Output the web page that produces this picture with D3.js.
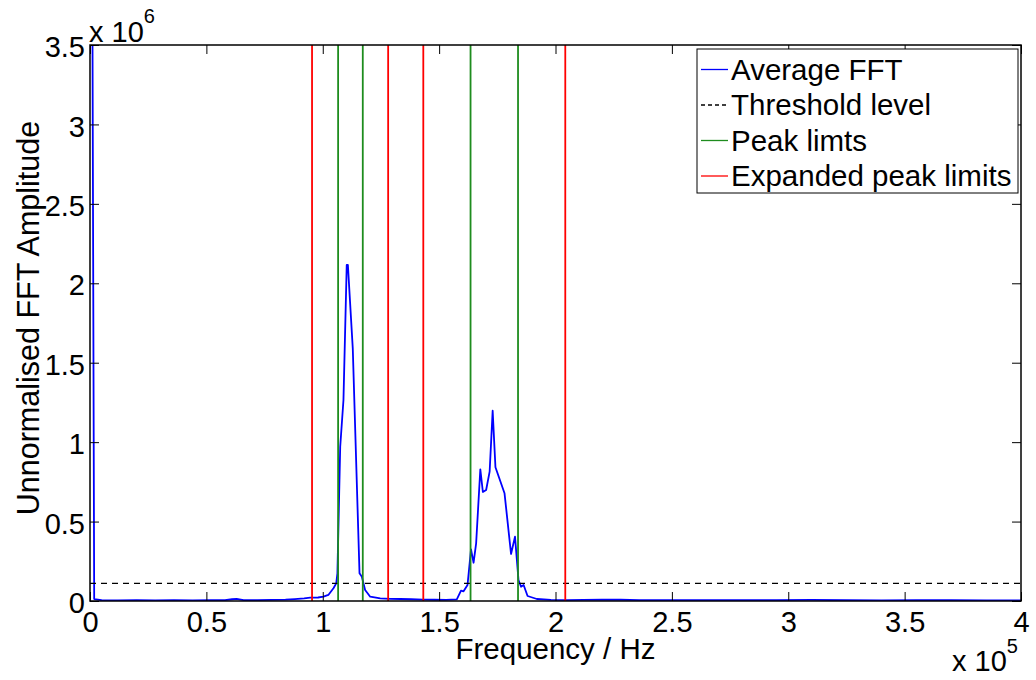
<!DOCTYPE html>
<html>
<head>
<meta charset="utf-8">
<script src="https://cdn.jsdelivr.net/npm/d3@7"></script>
<style>
body { margin: 0; background: #fff; }
text { font-family: "Liberation Sans", Arial, Helvetica, sans-serif; fill: #000; }
</style>
</head>
<body>
<svg id="plot"></svg>
<script>
const WIDTH = 1036;
const HEIGHT = 680;

// averaged spectrum
const fftFreqHz = [
	1000, 1800, 5000, 12000, 20000, 28000, 36000, 44000, 52000, 58000,
	61000, 63000, 66000, 72000, 78000, 84000, 88000, 92000, 94600, 98000,
	100300, 102400, 104600, 105800, 106300, 107500, 108900, 110300, 110800, 112900,
	115800, 116800, 118200, 120400, 124700, 129000, 133300, 138000, 143000, 148000,
	153000, 157600, 159400, 160500, 162200, 163700, 164800, 165900, 167700, 168800,
	170200, 171700, 173000, 174200, 176000, 178100, 180900, 182600, 184100, 185200,
	186300, 188000, 192000, 198000, 205000, 212000, 220000, 228000, 236000, 250000,
	265000, 280000, 295000, 310000, 325000, 340000, 355000, 370000, 385000, 400000,
];
const fftAmplitude = [
	3900000, 12000, 5000, 4000, 5500, 4000, 5000, 4500, 5000, 6000,
	11000, 13000, 6000, 5500, 7000, 9000, 12000, 16000, 21000, 22000,
	27000, 38000, 80000, 111000, 174000, 971000, 1265000, 2115000, 2115000, 1590000,
	174000, 153000, 69000, 27000, 17000, 14000, 12600, 11000, 9000, 8000,
	7000, 10700, 64800, 61000, 100700, 325000, 241000, 363000, 829000, 686000,
	699000, 814000, 1198000, 842000, 766000, 678000, 296000, 405000, 132000, 90000,
	100700, 31500, 12600, 7000, 6000, 7000, 9000, 8000, 6000, 5000,
	6000, 5000, 5500, 6500, 5000, 4500, 5500, 5000, 4500, 4000,
];

const thresholdLevel = 111000;
const peakLimitsHz = [106600, 117200, 163500, 183900];
const expandedLimitsHz = [95400, 128100, 143200, 204200];

const xTickValues = [0, 50000, 100000, 150000, 200000, 250000, 300000, 350000, 400000];
const xTickLabels = ["0", "0.5", "1", "1.5", "2", "2.5", "3", "3.5", "4"];
const yTickValues = [0, 500000, 1000000, 1500000, 2000000, 2500000, 3000000, 3500000];
const yTickLabels = ["0", "0.5", "1", "1.5", "2", "2.5", "3", "3.5"];

const legendItems = ["Average FFT", "Threshold level", "Peak limts", "Expanded peak limits"];

const BLUE = "#0000ff";
const GREEN = "#1e8c1e";
const RED = "#ff0000";

const svg = d3.select("#plot").attr("width", WIDTH).attr("height", HEIGHT);

const x = d3.scaleLinear([0, 400000], [90, 1021]);
const y = d3.scaleLinear([0, 3500000], [601, 45]);

svg.append("clipPath").attr("id", "clip")
	.append("rect")
	.attr("x", x(0)).attr("y", y(3500000))
	.attr("width", x(400000) - x(0)).attr("height", y(0) - y(3500000));

const plotArea = svg.append("g").attr("clip-path", "url(#clip)");

const fftPoints = fftFreqHz.map((f, i) => [x(f), y(fftAmplitude[i])]);
plotArea.append("path")
	.attr("d", d3.line()(fftPoints))
	.attr("fill", "none")
	.attr("stroke", BLUE)
	.attr("stroke-width", 1.8)
	.attr("stroke-linejoin", "round");

plotArea.append("line")
	.attr("x1", x(0)).attr("x2", x(400000))
	.attr("y1", y(thresholdLevel)).attr("y2", y(thresholdLevel))
	.attr("stroke", "#000")
	.attr("stroke-width", 1.4)
	.attr("stroke-dasharray", "6,5");

function drawLimits(values, colour) {
	plotArea.selectAll(null)
		.data(values)
		.join("line")
		.attr("x1", d => x(d)).attr("x2", d => x(d))
		.attr("y1", y(0)).attr("y2", y(3500000))
		.attr("stroke", colour)
		.attr("stroke-width", 1.8);
}
drawLimits(peakLimitsHz, GREEN);
drawLimits(expandedLimitsHz, RED);

// axes, matlab style: ticks inside on all four sides
const tickLen = 9;
const styleAxis = g => {
	g.select(".domain").remove();
	g.selectAll("line").attr("stroke", "#000").attr("stroke-width", 1);
	g.selectAll("text").attr("font-size", 29).attr("font-family", null);
};

svg.append("g")
	.attr("transform", `translate(0,${y(0)})`)
	.call(d3.axisBottom(x).tickValues(xTickValues)
		.tickFormat((d, i) => xTickLabels[i])
		.tickSize(-tickLen).tickPadding(10))
	.call(styleAxis);

svg.append("g")
	.attr("transform", `translate(0,${y(3500000)})`)
	.call(d3.axisTop(x).tickValues(xTickValues).tickFormat("").tickSize(-tickLen))
	.call(styleAxis);

svg.append("g")
	.attr("transform", `translate(${x(0)},0)`)
	.call(d3.axisLeft(y).tickValues(yTickValues)
		.tickFormat((d, i) => yTickLabels[i])
		.tickSize(-tickLen).tickPadding(5))
	.call(styleAxis)
	.call(g => g.selectAll("text").attr("dy", "0.4em"));

svg.append("g")
	.attr("transform", `translate(${x(400000)},0)`)
	.call(d3.axisRight(y).tickValues(yTickValues).tickFormat("").tickSize(-tickLen))
	.call(styleAxis);

svg.append("rect")
	.attr("x", x(0)).attr("y", y(3500000))
	.attr("width", x(400000) - x(0)).attr("height", y(0) - y(3500000))
	.attr("fill", "none")
	.attr("stroke", "#000")
	.attr("stroke-width", 1.5);

// exponent labels
const yExp = svg.append("text").attr("x", 89).attr("y", 42).attr("font-size", 29);
yExp.append("tspan").text("x 10");
yExp.append("tspan").attr("dy", -19).attr("font-size", 20).text("6");

const xExp = svg.append("text").attr("x", 952).attr("y", 671).attr("font-size", 29);
xExp.append("tspan").text("x 10");
xExp.append("tspan").attr("dy", -18).attr("font-size", 20).text("5");

// axis titles
svg.append("text")
	.attr("x", (x(0) + x(400000)) / 2).attr("y", 659)
	.attr("text-anchor", "middle")
	.attr("font-size", 29.5)
	.text("Frequency / Hz");

svg.append("text")
	.attr("transform", `translate(39,${(y(0) + y(3500000)) / 2 - 5}) rotate(-90)`)
	.attr("text-anchor", "middle")
	.attr("font-size", 30.5)
	.text("Unnormalised FFT Amplitude");

// legend
const legend = svg.append("g");
legend.append("rect")
	.attr("x", 697).attr("y", 49).attr("width", 321).attr("height", 144)
	.attr("fill", "#fff").attr("stroke", "#000").attr("stroke-width", 1);

const legendStyles = [
	{ colour: BLUE, dash: null },
	{ colour: "#000", dash: "4,3" },
	{ colour: GREEN, dash: null },
	{ colour: RED, dash: null },
];
const rowY = i => 79.5 + i * 35.5;
legend.selectAll(".legend-line")
	.data(legendItems)
	.join("line")
	.attr("class", "legend-line")
	.attr("x1", 701).attr("x2", 728)
	.attr("y1", (d, i) => rowY(i) - 10).attr("y2", (d, i) => rowY(i) - 10)
	.attr("stroke", (d, i) => legendStyles[i].colour)
	.attr("stroke-dasharray", (d, i) => legendStyles[i].dash)
	.attr("stroke-width", 1.3);
legend.selectAll(".legend-text")
	.data(legendItems)
	.join("text")
	.attr("class", "legend-text")
	.attr("x", 731)
	.attr("y", (d, i) => rowY(i))
	.attr("font-size", 29.5)
	.text(d => d);
</script>
</body>
</html>
